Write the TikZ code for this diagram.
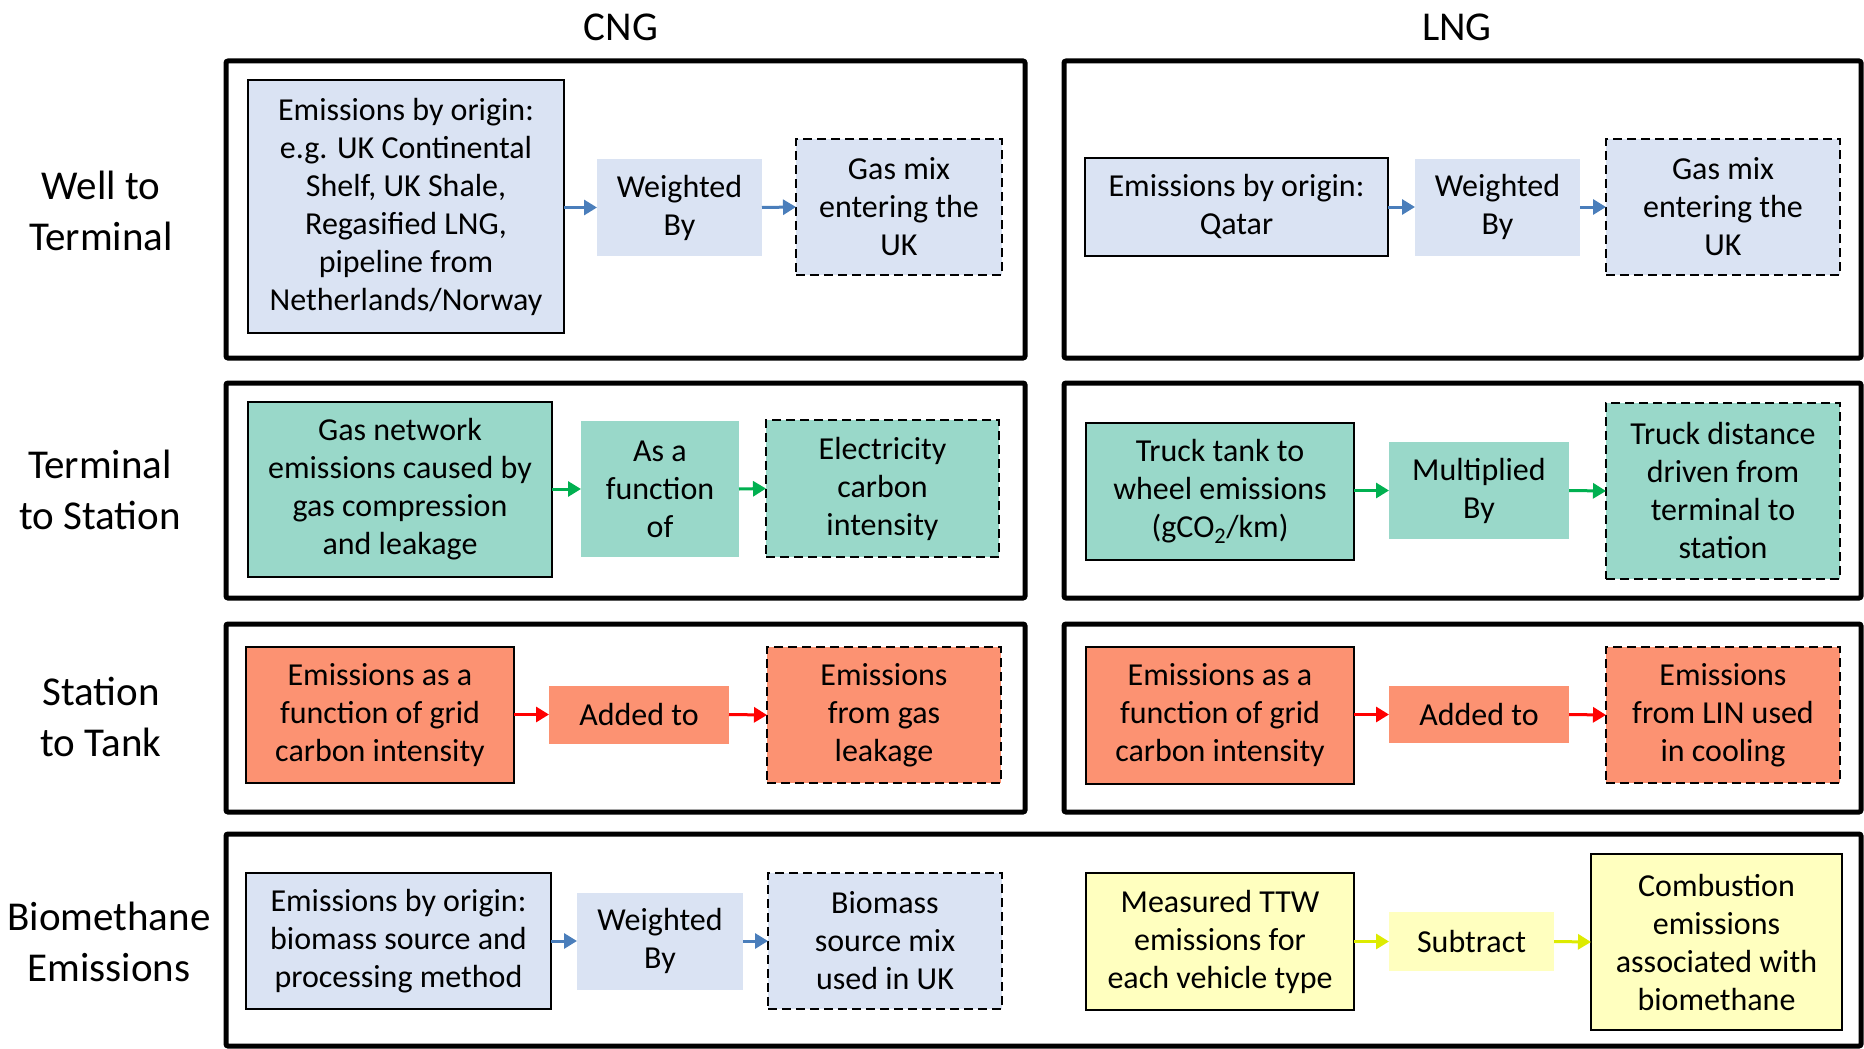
\documentclass[tikz,border=0pt]{standalone}
\usepackage{fontspec}
\setmainfont{Carlito}
\usetikzlibrary{arrows.meta}
\definecolor{cblue}{HTML}{DAE3F3}
\definecolor{cgreen}{HTML}{99D8C9}
\definecolor{cred}{HTML}{FC9272}
\definecolor{cyellow}{HTML}{FFFFBF}
\definecolor{ablue}{HTML}{4A7EBB}
\definecolor{agreen}{HTML}{00B050}
\definecolor{ared}{HTML}{FF0000}
\definecolor{ayellow}{HTML}{DDEB00}
\tikzset{
 panel/.style={draw=black, line width=5pt, rounded corners=2pt},
 lbl/.style={align=center, font=\fontsize{41}{51}\selectfont, inner sep=0pt},
 coltitle/.style={font=\fontsize{41}{51}\selectfont, inner sep=0pt},
 box/.style={align=center, font=\fontsize{32}{38}\selectfont, inner sep=0pt, outer sep=0pt},
 solidbox/.style={box, draw=black, line width=2pt},
 dashbox/.style={box, draw=black, line width=2pt, dash pattern=on 9pt off 5pt},
 plainbox/.style={box},
 arr/.style={line width=3pt, -{Triangle[length=13pt,width=15pt]}},
}
\begin{document}
\begin{tikzpicture}[x=1pt,y=-1pt]
\useasboundingbox (0,0) rectangle (1864,1049);

% column titles
\node[coltitle] (tcng) at (621,27) {CNG};
\node[coltitle] (tlng) at (1457,27) {LNG};

% row labels
\node[lbl] (l1) at (101,211) {Well to\\Terminal};
\node[lbl] (l2) at (100,490) {Terminal\\to Station};
\node[lbl] (l3) at (101,717) {Station\\to Tank};
\node[lbl] (l4) at (109,942) {Biomethane\\Emissions};

% panels
\draw[panel] (226,61) rectangle (1025,358);
\draw[panel] (1064,61) rectangle (1861,358);
\draw[panel] (226,383) rectangle (1025,598);
\draw[panel] (1064,383) rectangle (1861,598);
\draw[panel] (226,624) rectangle (1025,812);
\draw[panel] (1064,624) rectangle (1861,812);
\draw[panel] (226,834) rectangle (1861,1046);

% row 1 CNG
\node[solidbox, fill=cblue, minimum width=316pt, minimum height=253pt] (a1) at (406,206.5)
 {Emissions by origin:\\e.g. UK Continental\\Shelf, UK Shale,\\Regasified LNG,\\pipeline from\\Netherlands/Norway};
\node[plainbox, fill=cblue, minimum width=165pt, minimum height=97pt] (a2) at (679.5,207.5) {Weighted\\By};
\node[dashbox, fill=cblue, minimum width=206pt, minimum height=136pt] (a3) at (899,207) {Gas mix\\entering the\\UK};
% row 1 LNG
\node[solidbox, fill=cblue, minimum width=303pt, minimum height=98pt] (b1) at (1236.5,207) {Emissions by origin:\\Qatar};
\node[plainbox, fill=cblue, minimum width=165pt, minimum height=97pt] (b2) at (1497.5,207) {Weighted\\By};
\node[dashbox, fill=cblue, minimum width=234pt, minimum height=136pt] (b3) at (1723,207) {Gas mix\\entering the\\UK};

% row 2 CNG
\node[solidbox, fill=cgreen, minimum width=304pt, minimum height=175pt] (c1) at (400,489.5)
 {Gas network\\emissions caused by\\gas compression\\and leakage};
\node[plainbox, fill=cgreen, minimum width=158pt, minimum height=136pt] (c2) at (660,489) {As a\\function\\of};
\node[dashbox, fill=cgreen, minimum width=233pt, minimum height=137pt] (c3) at (882.5,488.5) {Electricity\\carbon\\intensity};
% row 2 LNG
\node[solidbox, fill=cgreen, minimum width=268pt, minimum height=137pt] (d1) at (1220,491.5)
 {Truck tank to\\wheel emissions\\(gCO\textsubscript{2}/km)};
\node[plainbox, fill=cgreen, minimum width=180pt, minimum height=97pt] (d2) at (1479,490.5) {Multiplied\\By};
\node[dashbox, fill=cgreen, minimum width=234pt, minimum height=176pt] (d3) at (1723,491)
 {Truck distance\\driven from\\terminal to\\station};

% row 3 CNG
\node[solidbox, fill=cred, minimum width=268pt, minimum height=136pt] (e1) at (380,715)
 {Emissions as a\\function of grid\\carbon intensity};
\node[plainbox, fill=cred, minimum width=180pt, minimum height=58pt] (e2) at (639,714.5) {Added to};
\node[dashbox, fill=cred, minimum width=234pt, minimum height=136pt] (e3) at (884,715) {Emissions\\from gas\\leakage};
% row 3 LNG
\node[solidbox, fill=cred, minimum width=268pt, minimum height=137pt] (f1) at (1220,715)
 {Emissions as a\\function of grid\\carbon intensity};
\node[plainbox, fill=cred, minimum width=180pt, minimum height=57pt] (f2) at (1479,714.5) {Added to};
\node[dashbox, fill=cred, minimum width=234pt, minimum height=136pt] (f3) at (1723,715) {Emissions\\from LIN used\\in cooling};

% row 4
\node[solidbox, fill=cblue, minimum width=305pt, minimum height=136pt] (g1) at (398.5,941)
 {Emissions by origin:\\biomass source and\\processing method};
\node[plainbox, fill=cblue, minimum width=166pt, minimum height=97pt] (g2) at (660,941) {Weighted\\By};
\node[dashbox, fill=cblue, minimum width=234pt, minimum height=136pt] (g3) at (885,941) {Biomass\\source mix\\used in UK};
\node[solidbox, fill=cyellow, minimum width=268pt, minimum height=137pt] (h1) at (1220,941.5)
 {Measured TTW\\emissions for\\each vehicle type};
\node[plainbox, fill=cyellow, minimum width=165pt, minimum height=59pt] (h2) at (1471.5,941.5) {Subtract};
\node[solidbox, fill=cyellow, minimum width=251pt, minimum height=176pt] (h3) at (1716.5,942)
 {Combustion\\emissions\\associated with\\biomethane};

% arrows
\draw[arr, ablue] (a1.east |- a2.west) -- (a2.west);
\draw[arr, ablue] (a2.east) -- (a3.west);
\draw[arr, ablue] (b1.east |- b2.west) -- (b2.west);
\draw[arr, ablue] (b2.east) -- (b3.west);
\draw[arr, agreen] (c1.east |- c2.west) -- (c2.west);
\draw[arr, agreen] (c2.east) -- (c3.west);
\draw[arr, agreen] (d1.east |- d2.west) -- (d2.west);
\draw[arr, agreen] (d2.east) -- (d3.west);
\draw[arr, ared] (e1.east |- e2.west) -- (e2.west);
\draw[arr, ared] (e2.east) -- (e3.west);
\draw[arr, ared] (f1.east |- f2.west) -- (f2.west);
\draw[arr, ared] (f2.east) -- (f3.west);
\draw[arr, ablue] (g1.east |- g2.west) -- (g2.west);
\draw[arr, ablue] (g2.east) -- (g3.west);
\draw[arr, ayellow] (h1.east |- h2.west) -- (h2.west);
\draw[arr, ayellow] (h2.east) -- (h3.west);
\end{tikzpicture}
\end{document}
